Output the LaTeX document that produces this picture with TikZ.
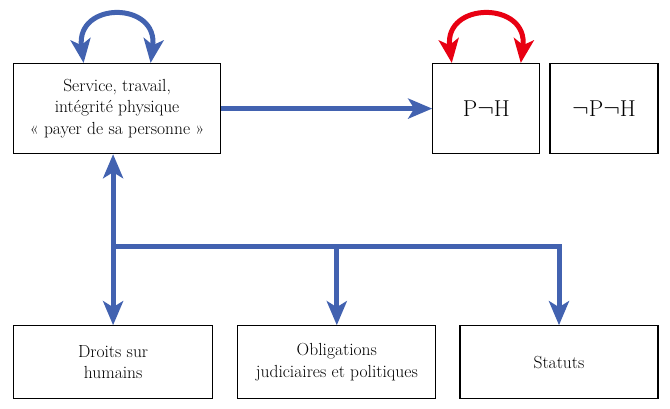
\documentclass[tikz,border=0pt]{standalone}
\usetikzlibrary{positioning,arrows.meta}
\definecolor{linkblue}{RGB}{66,98,176}
\definecolor{linkred}{RGB}{232,0,18}

\begin{document}
\begin{tikzpicture}[>={Stealth[length=24pt,width=20pt,inset=6pt]}, line join=miter,
    box/.style={rectangle,draw,line width=1.2pt,align=center,inner sep=0pt,font=\fontsize{17.5}{21.5}\selectfont},
    big/.style={font=\fontsize{23}{26}\selectfont},
    link/.style={draw=linkblue,line width=5pt},
    redlink/.style={draw=linkred,line width=5pt}]

    \node[box,minimum width=207pt,minimum height=90pt] (serv) {Service, travail,\\intégrité physique\\« payer de sa personne »};
    \node[box,big,minimum width=107pt,minimum height=90pt] (ph) [right=211pt of serv] {P$\neg$H};
    \node[box,big,minimum width=108pt,minimum height=90pt] (nph) [right=9pt of ph] {$\neg$P$\neg$H};

    \node[box,minimum width=199pt,minimum height=73pt] (droits) [below=171pt of serv.south west, anchor=north west] {Droits sur\\humains};
    \node[box,minimum width=198pt,minimum height=73pt] (oblig) [right=24pt of droits] {Obligations\\judiciaires et politiques};
    \node[box,minimum width=198pt,minimum height=73pt] (statuts) [right=23pt of oblig] {Statuts};

    \useasboundingbox ([shift={(-13pt,63pt)}]serv.north west) rectangle ++(670pt,-409pt);

    \coordinate (top) at (droits.north |- serv.south);
    \coordinate (fork) at ([yshift=-92pt]top);

    \draw[link,->] (serv) -- (ph);
    \draw[link,<->] (top) -- (droits.north);
    \draw[link,->] (fork) -| (statuts.north);
    \draw[link,->] (oblig.north |- fork) -- (oblig.north);

    % boucles
    \draw[link,<->] ([xshift=-33.5pt]serv.north) .. controls +(-8pt,62pt) and +(8pt,62pt) .. ([xshift=33.5pt]serv.north);
    \draw[redlink,<->] ([xshift=-34.5pt]ph.north) .. controls +(-8pt,62pt) and +(8pt,62pt) .. ([xshift=34.5pt]ph.north);

\end{tikzpicture}
\end{document}
